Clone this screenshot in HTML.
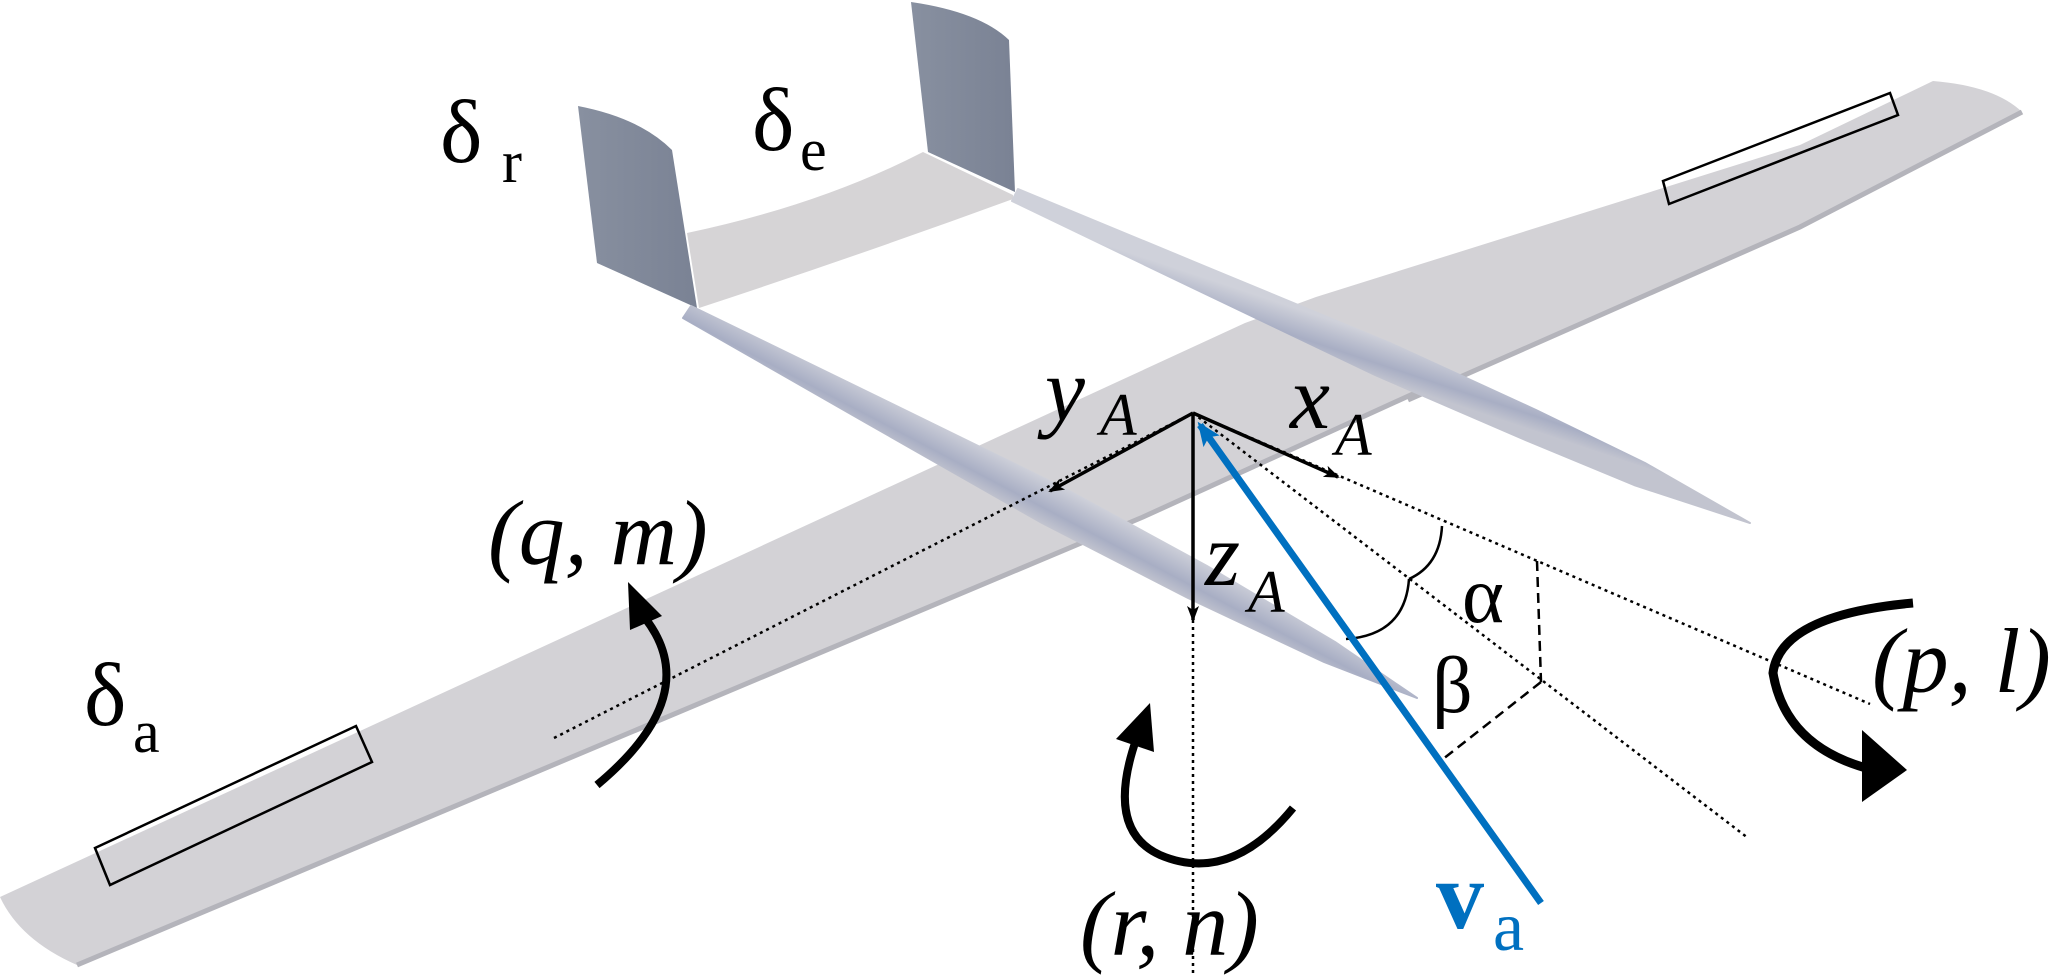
<!DOCTYPE html>
<html><head><meta charset="utf-8"><style>
html,body{margin:0;padding:0;background:#fff;}
svg{display:block;}
text{font-family:"Liberation Serif","Times New Roman",serif;fill:#000;}
</style></head><body>
<svg width="2067" height="977" viewBox="0 0 2067 977" xmlns="http://www.w3.org/2000/svg">
<defs>
<linearGradient id="boomR" gradientUnits="userSpaceOnUse" x1="1385" y1="338" x2="1372" y2="377">
<stop offset="0" stop-color="#cfd1da"/><stop offset="0.65" stop-color="#a8aec4"/><stop offset="1" stop-color="#c2c4cf"/>
</linearGradient>
<linearGradient id="boomL" gradientUnits="userSpaceOnUse" x1="1062" y1="486" x2="1042" y2="524">
<stop offset="0" stop-color="#cfd1da"/><stop offset="0.65" stop-color="#a8aec4"/><stop offset="1" stop-color="#c2c4cf"/>
</linearGradient>
<linearGradient id="fin" x1="0" y1="0" x2="1" y2="0">
<stop offset="0" stop-color="#8890a0"/><stop offset="1" stop-color="#7a8294"/>
</linearGradient>
<marker id="ah" markerWidth="16" markerHeight="12" refX="14" refY="6" orient="auto" markerUnits="userSpaceOnUse">
<path d="M0,0 L16,6 L0,12 L4,6 Z" fill="#000"/>
</marker>
<marker id="ahb" markerWidth="24" markerHeight="20" refX="20" refY="10" orient="auto" markerUnits="userSpaceOnUse">
<path d="M0,0 L24,10 L0,20 L5,10 Z" fill="#0070c0"/>
</marker>
</defs>

<path d="M687,233 Q820,205 923,152 L1013,195 L1013,199 Q860,255 699,308 Z" fill="#d6d4d6"/>
<path d="M578,106 Q640,118 672,150 L697,308 L597,263 Z" fill="url(#fin)"/>
<path d="M911,2 Q980,12 1009,40 L1015,192 L928,152 Z" fill="url(#fin)"/>

<!-- main wing -->
<path d="M0,897 L1245,323 L1316,297 L1800,145 L1933,81 Q1995,86 2022,112 L1800,227 L1408,400 L1426,388 L1143,517 L77,965 Q20,940 0,897 Z" fill="#d3d2d6"/>
<path d="M77,965 L1143,517 L1426,388 M1408,400 L1800,227 L2022,112" fill="none" stroke="#b4b4bb" stroke-width="5"/>
<path d="M95,848 L356,726 L372,762 L110,885 Z" fill="none" stroke="#000" stroke-width="2.5"/>
<path d="M1663,181 L1890,93 L1898,115 L1669,204 Z" fill="none" stroke="#000" stroke-width="2.5"/>

<!-- booms -->
<path d="M691,306 L876,396 L1062,487 L1207,566 L1335,642 L1417,698 L1324,662 L1188,598 L1042,523 L863,421 L683,318 Z" fill="url(#boomL)" stroke="url(#boomL)" stroke-width="2" stroke-linejoin="round"/>
<path d="M1018,189 L1204,266 L1390,343 L1536,410 L1645,463 L1750,523 L1634,485 L1523,439 L1375,375 L1193,288 L1012,201 Z" fill="url(#boomR)" stroke="url(#boomR)" stroke-width="2" stroke-linejoin="round"/>

<g stroke="#000" stroke-width="2.5" stroke-dasharray="3,4" fill="none">
<line x1="554" y1="738" x2="1193" y2="413"/>
<line x1="1193" y1="413" x2="1870" y2="704"/>
<line x1="1193" y1="413" x2="1748" y2="838"/>
<line x1="1193" y1="620" x2="1193" y2="977"/>
</g>
<g stroke="#000" stroke-width="2.5" stroke-dasharray="10,6" fill="none">
<line x1="1537" y1="561" x2="1541" y2="682"/>
<line x1="1541" y1="682" x2="1438" y2="763"/>
</g>
<path d="M1442,526 Q1440,565 1409,579" fill="none" stroke="#000" stroke-width="2.5"/>
<path d="M1409,579 Q1405,635 1346,639" fill="none" stroke="#000" stroke-width="2.5"/>

<g stroke="#000" stroke-width="3.5" fill="none">
<line x1="1193" y1="413" x2="1050" y2="491" marker-end="url(#ah)"/>
<line x1="1193" y1="413" x2="1338" y2="477" marker-end="url(#ah)"/>
<line x1="1193" y1="413" x2="1193" y2="620" marker-end="url(#ah)"/>
</g>
<line x1="1541" y1="903" x2="1200" y2="425" stroke="#0070c0" stroke-width="7" marker-end="url(#ahb)"/>

<!-- rotation arrows -->
<path d="M645,618 Q705,695 597,785" fill="none" stroke="#000" stroke-width="8"/>
<path d="M628,582 L662,616 L630,630 Z" fill="#000"/>
<path d="M1913,603 Q1780,615 1773,673 Q1785,745 1866,768" fill="none" stroke="#000" stroke-width="9"/>
<path d="M1862,730 L1907,770 L1862,802 Z" fill="#000"/>
<path d="M1136,740 Q1105,830 1160,855 Q1230,885 1293,808" fill="none" stroke="#000" stroke-width="8"/>
<path d="M1150,703 L1154,752 L1116,739 Z" fill="#000"/>

<text x="440" y="162" font-size="90">δ</text><text x="502" y="182" font-size="60">r</text>
<text x="752" y="150" font-size="90">δ</text><text x="800" y="170" font-size="60">e</text>
<text x="84" y="725" font-size="90">δ</text><text x="133" y="752" font-size="60">a</text>
<text x="488" y="564" font-size="92" font-style="italic">(q, m)</text>
<text x="1872" y="692" font-size="92" font-style="italic">(p, l)</text>
<text x="1080" y="955" font-size="92" font-style="italic">(r, n)</text>
<text x="1045" y="420" font-size="90" font-style="italic">y</text><text x="1100" y="435" font-size="60" font-style="italic">A</text>
<text x="1290" y="428" font-size="90" font-style="italic">x</text><text x="1335" y="455" font-size="60" font-style="italic">A</text>
<text x="1205" y="585" font-size="90" font-style="italic">z</text><text x="1248" y="612" font-size="60" font-style="italic">A</text>
<text x="1462" y="622" font-size="80">α</text>
<text x="1432" y="712" font-size="80">β</text>
<text x="1436" y="928" font-size="96" font-weight="bold" style="fill:#0070c0">v</text><text x="1493" y="950" font-size="70" style="fill:#0070c0">a</text>
</svg>
</body></html>
